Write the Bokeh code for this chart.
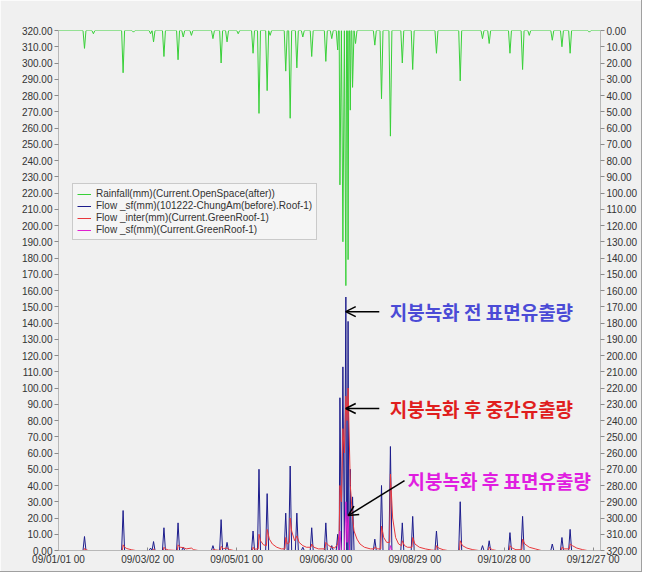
import pandas as pd
from bokeh.plotting import figure
from bokeh.models import (Range1d, LinearAxis, FixedTicker, NumeralTickFormatter,
                          DatetimeTickFormatter, Legend, LegendItem, Label, Arrow, OpenHead)
from bokeh.embed import file_html
from bokeh.resources import INLINE

# ---------------- data (day offsets from 2009-01-01) ----------------
START = pd.Timestamp("2009-01-01")
END_DAY = 364.96

rain_days = [17.5, 23.5, 43.5, 50.5, 62, 64, 71, 80.5, 84, 89.5, 104, 109.5, 113.5, 121,
             131, 135, 140.5, 142.5, 153, 156, 160.5, 164.5, 170.5, 180, 184, 188,
             189.5, 191.5, 193.5, 195, 196.5, 198, 200, 213, 217.5, 223.5, 231.5, 238.5,
             254.5, 270.5, 285.5, 290, 304, 312.5, 317, 332.5, 339, 344.5, 357.5]
rain_vals = [11, 2, 26, 1, 2, 7, 16, 18, 4, 3, 5, 20, 7, 2,
             14, 51, 37, 3, 25, 54, 23, 4, 16, 19, 5, 12,
             95, 130, 157, 141, 49, 35, 8, 9, 42, 65, 20, 24,
             14, 31, 5, 8, 14, 24, 3, 6, 10, 14, 1]

before_days = [17.5, 43.5, 62, 64, 71, 80.5, 84, 104, 109.5, 113.5, 131, 135, 140.5,
               153, 156, 160.5, 164.5, 170.5, 180, 184, 188, 189.5, 191.5, 193.5, 195,
               196.5, 198, 213, 217.5, 223.5, 231.5, 238.5, 254.5, 270.5, 285.5, 290,
               304, 312.5, 332.5, 339, 344.5]
before_vals = [8.6, 24.6, 1.5, 5.5, 14, 17, 2, 3, 19, 5, 12, 50, 35,
               23, 52, 23, 2, 14, 17, 3, 10, 94, 113, 156, 141,
               50, 33, 7, 40, 64, 17, 21, 12, 30, 3, 6,
               11, 21, 4, 8, 13]

inter_days = [0, 17, 17.5, 18.5, 20, 43, 43.5, 44.5, 46, 49, 52, 63.5, 64, 65,
              70.5, 71, 72, 74, 80, 80.5, 82, 84, 86, 89.5, 91, 94,
              103.5, 104, 109, 109.5, 111, 113.5, 115, 118,
              130.5, 131, 132, 134.5, 135, 136, 138, 140, 140.5, 142, 144, 147, 150,
              152.5, 153, 154, 155.5, 156, 157, 159, 160.5, 162, 164.5, 167, 170, 170.5,
              172, 175, 179.5, 180, 182, 184, 186, 188, 189, 189.5, 190.5, 191.5, 192.5,
              193.5, 194.3, 195, 196, 196.5, 198, 199, 201, 203, 206, 210, 212.5, 213,
              215, 217, 217.5, 219, 221, 223, 223.5, 225, 227, 229, 231, 231.5, 233, 235,
              238, 238.5, 240, 243, 247, 251, 254, 254.5, 256, 259, 262,
              270, 270.5, 272, 275, 279, 283, 289.5, 290, 292, 295,
              303.5, 304, 305.5, 308, 312, 312.5, 314, 317, 321, 325,
              338.5, 339, 340.5, 344, 344.5, 346, 349, 353, 356, 364.9]
inter_vals = [0, 0, 1.2, 0.5, 0, 0, 3.5, 2, 1.2, 0.5, 0, 0, 1, 0,
              0, 2, 1, 0.3, 0, 3.5, 2, 1.8, 1, 1.5, 0.5, 0,
              0, 0.5, 0, 2.5, 1.2, 1.5, 0.6, 0,
              0, 2, 0.8, 1, 10, 6, 3.5, 3, 13, 7, 4, 2, 1,
              1, 8, 4, 5, 20, 12, 6, 9, 5, 3, 2, 2, 4,
              2, 1, 1, 5, 3, 2, 1.5, 4, 10, 40, 30, 75, 60,
              95, 80, 100, 60, 40, 20, 12, 7, 4, 2, 1, 1, 2,
              1, 1, 15, 8, 5, 5, 47, 20, 8, 4, 3, 6, 3, 2,
              2, 8, 4, 2, 1, 0.3, 0, 3, 1.5, 0.5, 0,
              0, 6, 3, 1.5, 0.5, 0, 0, 2, 0.5, 0,
              0, 3, 1.5, 0.5, 0.5, 7, 4, 2, 1, 0,
              0, 2, 1, 1, 4, 3, 1.5, 0.5, 0, 0]

after_days = [0, 188.5, 189.5, 190.5, 192.5, 193.5, 194.3, 195, 196, 223, 223.5, 224.5, 364.9]
after_vals = [0, 0, 12, 0, 0, 30, 5, 22, 0, 0, 3, 0, 0]

y_ticks = list(range(0, 330, 10))
x_tick_dates = ["2009-01-01", "2009-03-02", "2009-05-01", "2009-06-30",
                "2009-08-29", "2009-10-28", "2009-12-27"]

legend_labels = ["Rainfall(mm)(Current.OpenSpace(after))",
                 "Flow _sf(mm)(101222-ChungAm(before).Roof-1)",
                 "Flow _inter(mm)(Current.GreenRoof-1)",
                 "Flow _sf(mm)(Current.GreenRoof-1)"]

notes = [("지붕녹화 전 표면유출량", "#4b4bd6", 223, 147),
         ("지붕녹화 후 중간유출량", "#e01e1e", 223, 87.4),
         ("지붕녹화 후 표면유출량", "#e01ee0", 235, 43)]
arrows = [(216, 147, 193.4, 147), (216, 87.4, 193.4, 87.4), (233, 43, 195, 21.5)]

# ---------------- helpers ----------------
START_MS = START.value / 1e6
DAY_MS = 86400000.0


def ms(d):
    return START_MS + d * DAY_MS


def spike_line(days, vals, half=1.0):
    pts = [(0.0, 0.0), (END_DAY, 0.0)]
    for d, v in zip(days, vals):
        pts += [(d - half, 0.0), (d, v), (d + half, 0.0)]
    pts.sort(key=lambda t: t[0])
    return [ms(p[0]) for p in pts], [p[1] for p in pts]


BG = "#f0f0f0"
p = figure(width=642, height=572, x_axis_type="datetime",
           x_range=Range1d(ms(0), ms(END_DAY)), y_range=Range1d(0, 320),
           output_backend="svg", toolbar_location=None,
           min_border_left=58, min_border_right=42, min_border_top=30, min_border_bottom=22,
           background_fill_color=BG, border_fill_color=BG)
p.styles = {"border-right": "1px solid #a0a0a0", "border-bottom": "1px solid #a0a0a0"}
p.outline_line_color = None
p.grid.visible = False
p.extra_y_ranges = {"rain": Range1d(320, 0)}

rx, ry = spike_line(rain_days, rain_vals)
r_rain = p.line(rx, ry, y_range_name="rain", line_color="#38d038", line_width=1)
bx, by = spike_line(before_days, before_vals)
r_before = p.line(bx, by, line_color="#1c1c8c", line_width=1)
r_inter = p.line([ms(d) for d in inter_days], inter_vals, line_color="#e8383c", line_width=1)
r_after = p.line([ms(d) for d in after_days], after_vals, line_color="#e020d0", line_width=1)

# axes
fmt = "%y/%m/%d %H"
p.xaxis.formatter = DatetimeTickFormatter(milliseconds=fmt, seconds=fmt, minsec=fmt, minutes=fmt,
                                          hourmin=fmt, hours=fmt, days=fmt, months=fmt, years=fmt)
p.xaxis.ticker = FixedTicker(ticks=[pd.Timestamp(t).value / 1e6 for t in x_tick_dates])
p.yaxis.ticker = FixedTicker(ticks=y_ticks)
p.yaxis.formatter = NumeralTickFormatter(format="0.00")

right = LinearAxis(y_range_name="rain", ticker=FixedTicker(ticks=y_ticks),
                   formatter=NumeralTickFormatter(format="0.00"))
p.add_layout(right, "right")

for ax in p.axis:
    ax.major_label_text_font = "Liberation Sans"
    ax.major_label_text_font_size = "10px"
    ax.major_label_text_color = "#333333"
    ax.axis_line_color = "#b8b8b8"
    ax.major_tick_line_color = "#8a8a8a"
    ax.minor_tick_line_color = None
    ax.major_tick_out = 4
    ax.major_tick_in = 0
    ax.major_label_standoff = 2
p.xaxis.major_tick_out = 0
p.xaxis.major_tick_in = 3
p.xaxis.major_label_standoff = 3

# legend
legend = Legend(items=[LegendItem(label=l, renderers=[r]) for l, r in
                       zip(legend_labels, [r_rain, r_before, r_inter, r_after])],
                location=(14, 310), label_text_font="Liberation Sans", label_text_font_size="10px",
                label_text_color="#333333", glyph_width=14, glyph_height=10, label_height=10,
                spacing=1, padding=4, margin=0, label_standoff=5,
                border_line_color="#a0a0a0", background_fill_color="#f5f5f5",
                background_fill_alpha=1.0)
p.add_layout(legend)

# annotations
for text, color, d, v in notes:
    p.add_layout(Label(x=ms(d), y=v, text=text, text_color=color, text_font="Noto Sans CJK KR",
                       text_font_size="19px", text_font_style="bold", text_baseline="middle"))
for d0, v0, d1, v1 in arrows:
    p.add_layout(Arrow(end=OpenHead(size=10, line_width=1.5, line_color="black"),
                       x_start=ms(d0), y_start=v0, x_end=ms(d1), y_end=v1,
                       line_width=1.5, line_color="black"))

open("out.html", "w").write(file_html(p, INLINE))
